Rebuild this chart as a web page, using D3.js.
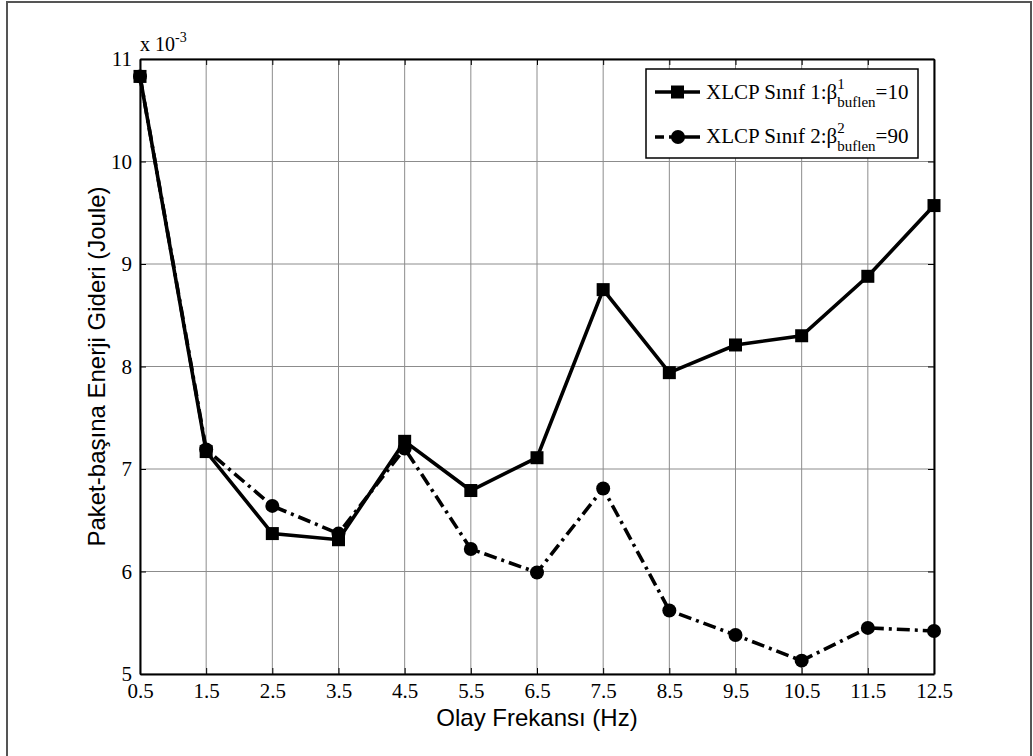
<!DOCTYPE html>
<html>
<head>
<meta charset="utf-8">
<script src="https://cdn.jsdelivr.net/npm/d3@7/dist/d3.min.js"></script>
<style>
html,body{margin:0;padding:0;background:#fff;}
svg{display:block;}
</style>
</head>
<body>
<svg id="chart" width="1033" height="756"></svg>
<script>
const xValues = [0.5,1.5,2.5,3.5,4.5,5.5,6.5,7.5,8.5,9.5,10.5,11.5,12.5];
const series1 = [10.83,7.17,6.37,6.31,7.27,6.79,7.11,8.75,7.94,8.21,8.30,8.88,9.57];
const series2 = [10.83,7.19,6.64,6.37,7.20,6.22,5.99,6.81,5.62,5.38,5.13,5.45,5.42];
const xTicks = [0.5,1.5,2.5,3.5,4.5,5.5,6.5,7.5,8.5,9.5,10.5,11.5,12.5];
const yTicks = [5,6,7,8,9,10,11];
const xLabel = "Olay Frekansı (Hz)";
const yLabel = "Paket-başına Enerji Gideri (Joule)";

const svg = d3.select("#chart");
const L = 140, T = 59, R = 934, B = 674;
const x = d3.scaleLinear().domain([0.5,12.5]).range([L,R]);
const y = d3.scaleLinear().domain([5,11]).range([B,T]);

// outer frame
svg.append("rect").attr("x",7).attr("y",2).attr("width",1024).attr("height",770)
  .attr("fill","none").attr("stroke","#555").attr("stroke-width",2);

// grid
const g = svg.append("g");
g.selectAll(".vg").data(xTicks).join("line")
  .attr("x1",d=>x(d)).attr("x2",d=>x(d)).attr("y1",T).attr("y2",B)
  .attr("stroke","#8c8c8c").attr("stroke-width",1);
g.selectAll(".hg").data(yTicks).join("line")
  .attr("x1",L).attr("x2",R).attr("y1",d=>y(d)).attr("y2",d=>y(d))
  .attr("stroke","#8c8c8c").attr("stroke-width",1);

// axes with inward ticks
const fontSerif = "'Liberation Serif','Times New Roman',serif";
const axB = d3.axisBottom(x).tickValues(xTicks).tickSizeInner(-6).tickSizeOuter(0).tickPadding(9).tickFormat(d3.format(".1f"));
const axT = d3.axisTop(x).tickValues(xTicks).tickSizeInner(-6).tickSizeOuter(0).tickFormat("");
const axLft = d3.axisLeft(y).tickValues(yTicks).tickSizeInner(-6).tickSizeOuter(0).tickPadding(8).tickFormat(d3.format("d"));
const axRt = d3.axisRight(y).tickValues(yTicks).tickSizeInner(-6).tickSizeOuter(0).tickFormat("");

function styleAxis(sel){
  sel.select(".domain").attr("stroke","#000").attr("stroke-width",2);
  sel.selectAll(".tick line").attr("stroke","#000").attr("stroke-width",1);
  sel.selectAll("text").attr("font-family",fontSerif).attr("font-size",21).attr("fill","#000");
}
styleAxis(svg.append("g").attr("transform",`translate(0,${B})`).call(axB));
styleAxis(svg.append("g").attr("transform",`translate(0,${T})`).call(axT));
styleAxis(svg.append("g").attr("transform",`translate(${L},0)`).call(axLft));
styleAxis(svg.append("g").attr("transform",`translate(${R},0)`).call(axRt));

// exponent label
const ex = svg.append("text").attr("x",140).attr("y",51).attr("font-family",fontSerif).attr("font-size",20).attr("fill","#000");
ex.append("tspan").text("x 10");
ex.append("tspan").attr("dy",-9).attr("font-size",14).text("-3");

// axis titles
const fontSans = "'Liberation Sans',Arial,sans-serif";
svg.append("text").attr("x",(L+R)/2).attr("y",726).attr("text-anchor","middle")
  .attr("font-family",fontSans).attr("font-size",24).text(xLabel);
svg.append("text").attr("transform",`translate(105,${(T+B)/2}) rotate(-90)`).attr("text-anchor","middle")
  .attr("font-family",fontSans).attr("font-size",24).text(yLabel);

// lines
const line = d3.line().x((d,i)=>x(xValues[i])).y(d=>y(d));
svg.append("path").datum(series2).attr("d",line).attr("fill","none").attr("stroke","#000")
  .attr("stroke-width",3.6).attr("stroke-dasharray","13,5,3,5");
svg.append("path").datum(series1).attr("d",line).attr("fill","none").attr("stroke","#000")
  .attr("stroke-width",3.6);

// markers
svg.selectAll(".c2").data(series2).join("circle")
  .attr("cx",(d,i)=>x(xValues[i])).attr("cy",d=>y(d)).attr("r",7).attr("fill","#000");
svg.selectAll(".s1").data(series1).join("rect")
  .attr("x",(d,i)=>x(xValues[i])-6.5).attr("y",d=>y(d)-6.5).attr("width",13).attr("height",13).attr("fill","#000");

// legend
const lg = svg.append("g");
lg.append("rect").attr("x",646).attr("y",69).attr("width",272).attr("height",89)
  .attr("fill","#fff").attr("stroke","#000").attr("stroke-width",1.5);
lg.append("line").attr("x1",655).attr("x2",700).attr("y1",92).attr("y2",92).attr("stroke","#000").attr("stroke-width",3.6);
lg.append("rect").attr("x",671).attr("y",85.5).attr("width",13).attr("height",13).attr("fill","#000");
lg.append("line").attr("x1",655).attr("x2",700).attr("y1",137).attr("y2",137).attr("stroke","#000").attr("stroke-width",3.6).attr("stroke-dasharray","9,5,40");
lg.append("circle").attr("cx",678).attr("cy",137).attr("r",7).attr("fill","#000");

function legText(yb, cls, sup, val){
  const t = lg.append("text").attr("x",706).attr("y",yb).attr("font-family",fontSerif).attr("font-size",21).attr("fill","#000");
  t.append("tspan").text(`XLCP Sınıf ${cls}:β`);
  const bx = t.node().getComputedTextLength();
  t.append("tspan").attr("dy",-10).attr("font-size",15).text(sup);
  t.append("tspan").attr("x",706+bx).attr("dy",18).attr("font-size",15).text("buflen");
  t.append("tspan").attr("dy",-8).attr("font-size",21).text(val);
}
legText(99,1,"1","=10");
legText(143,2,"2","=90");
</script>
</body>
</html>
